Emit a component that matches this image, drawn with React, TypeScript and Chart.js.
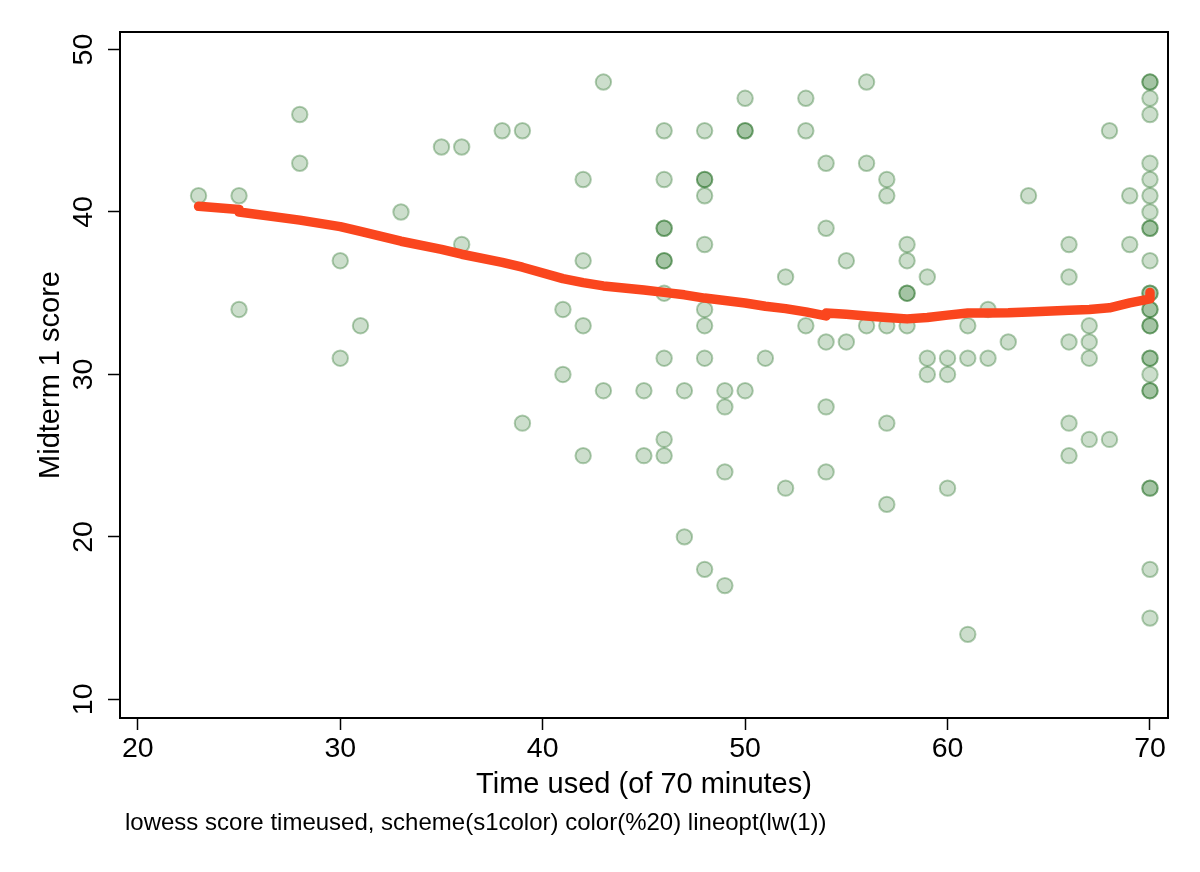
import React, { useEffect, useRef } from 'react';
import { Chart, registerables } from 'chart.js';

Chart.register(...registerables);

// Time used (minutes) for each student, paired with midtermScore below
const timeUsed = [
  23,
  25, 25,
  28, 28,
  30, 30,
  31,
  33,
  35,
  36, 36,
  38,
  39, 39,
  41, 41,
  42, 42, 42, 42,
  43, 43,
  45, 45,
  46, 46, 46, 46, 46, 46, 46, 46, 46, 46,
  47, 47,
  48, 48, 48, 48, 48, 48, 48, 48, 48,
  49, 49, 49, 49,
  50, 50, 50, 50,
  51,
  52, 52,
  53, 53, 53,
  54, 54, 54, 54, 54,
  55, 55,
  56, 56, 56,
  57, 57, 57, 57, 57,
  58, 58, 58, 58, 58,
  59, 59, 59,
  60, 60, 60,
  61, 61, 61,
  62, 62,
  63,
  64,
  66, 66, 66, 66, 66,
  67, 67, 67, 67,
  68, 68,
  69, 69,
  70, 70, 70, 70, 70, 70, 70, 70, 70, 70, 70, 70, 70,
  70, 70, 70, 70, 70, 70, 70, 70, 70, 70, 70, 70, 70,
];

const midtermScore = [
  41,
  41, 34,
  46, 43,
  37, 31,
  33,
  40,
  44,
  44, 38,
  45,
  45, 27,
  34, 30,
  42, 37, 33, 25,
  48, 29,
  29, 25,
  45, 42, 39, 39, 37, 37, 35, 31, 26, 25,
  29, 20,
  45, 42, 42, 41, 38, 34, 33, 31, 18,
  29, 28, 24, 17,
  47, 45, 45, 29,
  31,
  36, 23,
  47, 45, 33,
  43, 39, 32, 28, 24,
  37, 32,
  48, 43, 33,
  42, 41, 33, 27, 22,
  38, 37, 35, 35, 33,
  36, 31, 30,
  31, 30, 23,
  33, 31, 14,
  34, 31,
  32,
  41,
  38, 36, 32, 27, 25,
  33, 32, 31, 26,
  45, 26,
  41, 38,
  48, 48, 47, 46, 43, 42, 41, 40, 39, 39, 37, 35, 35,
  34, 34, 33, 33, 31, 31, 30, 29, 29, 23, 23, 18, 15,
];

// lowess smooth
const lowessX = [
  23, 25, 25, 28, 30, 31, 33, 35, 36, 38, 39, 41, 42, 43, 45, 46, 47, 48, 49, 50,
  51, 52, 53, 54, 54, 55, 56, 57, 58, 59, 60, 61, 62, 63, 64, 66, 67, 68, 69, 70, 70,
];
const lowessY = [
  40.35, 40.15, 40.0, 39.5, 39.1, 38.8, 38.2, 37.7, 37.4, 36.9, 36.6, 35.9, 35.65, 35.45, 35.2, 35.05, 34.9, 34.7, 34.55, 34.4,
  34.2, 34.05, 33.85, 33.6, 33.78, 33.7, 33.6, 33.5, 33.42, 33.5, 33.65, 33.78, 33.78, 33.8, 33.85, 33.95, 34.0, 34.1, 34.4, 34.65, 35.05,
];

const xTicks = [20, 30, 40, 50, 60, 70];
const yTicks = [10, 20, 30, 40, 50];

const xTitle = 'Time used (of 70 minutes)';
const yTitle = 'Midterm 1 score';
const footnote = 'lowess score timeused, scheme(s1color) color(%20) lineopt(lw(1))';

const FONT = "'Liberation Sans', Arial, Helvetica, sans-serif";

const boxPlugin = {
  id: 'plotBox',
  afterDraw(chart: any) {
    const { ctx, chartArea } = chart;
    ctx.save();
    ctx.strokeStyle = '#000';
    ctx.lineWidth = 2;
    ctx.strokeRect(chartArea.left, chartArea.top, chartArea.right - chartArea.left, chartArea.bottom - chartArea.top);
    // note under the graph
    ctx.font = `24px ${FONT}`;
    ctx.fillStyle = '#000';
    ctx.textBaseline = 'alphabetic';
    ctx.textAlign = 'left';
    ctx.fillText(footnote, chartArea.left + 5, chart.height - 42);
    ctx.restore();
  },
};

const App: React.FC = () => {
  const canvasRef = useRef<HTMLCanvasElement | null>(null);

  useEffect(() => {
    if (!canvasRef.current) return;
    const ctx = canvasRef.current.getContext('2d');
    if (!ctx) return;

    const points = timeUsed.map((t, i) => ({ x: t, y: midtermScore[i] }));
    const smooth = lowessX.map((t, i) => ({ x: t, y: lowessY[i] }));

    const chart = new Chart(ctx, {
      type: 'scatter',
      data: {
        datasets: [
          {
            type: 'line',
            label: 'lowess',
            data: smooth,
            borderColor: 'rgb(250,70,30)',
            borderWidth: 9.5,
            borderCapStyle: 'round',
            borderJoinStyle: 'round',
            pointRadius: 0,
            tension: 0,
            fill: false,
          },
          {
            label: 'score',
            data: points,
            backgroundColor: 'rgba(0,90,0,0.2)',
            borderColor: 'rgba(0,90,0,0.3)',
            borderWidth: 2,
            pointRadius: 7.7,
          },
        ],
      },
      options: {
        responsive: false,
        animation: false,
        layout: { padding: { top: 32, right: 32, left: 0, bottom: 0 } },
        plugins: {
          legend: { display: false },
          tooltip: { enabled: false },
        },
        scales: {
          x: {
            type: 'linear',
            min: 19.12,
            max: 70.89,
            afterBuildTicks: (s: any) => {
              s.ticks = xTicks.map((v) => ({ value: v }));
            },
            afterFit: (s: any) => {
              s.height = 154;
            },
            grid: { drawOnChartArea: false, drawTicks: true, tickLength: 12, tickWidth: 1.5, tickColor: '#000' },
            border: { display: true, color: '#000', width: 2 },
            ticks: {
              autoSkip: false,
              maxRotation: 0,
              minRotation: 0,
              padding: 2,
              color: '#000',
              font: { family: FONT, size: 28.5 },
            },
            title: {
              display: true,
              text: xTitle,
              color: '#000',
              font: { family: FONT, size: 29 },
              padding: { top: 0, bottom: 70 },
            },
          },
          y: {
            type: 'linear',
            min: 8.85,
            max: 51.08,
            afterBuildTicks: (s: any) => {
              s.ticks = yTicks.map((v) => ({ value: v }));
            },
            afterFit: (s: any) => {
              s.width = 120;
            },
            grid: { drawOnChartArea: false, drawTicks: true, tickLength: 12, tickWidth: 1.5, tickColor: '#000' },
            border: { display: true, color: '#000', width: 2 },
            ticks: {
              autoSkip: false,
              minRotation: 90,
              maxRotation: 90,
              crossAlign: 'center',
              padding: 8,
              color: '#000',
              font: { family: FONT, size: 28.5 },
            },
            title: {
              display: true,
              text: yTitle,
              color: '#000',
              font: { family: FONT, size: 29 },
              padding: { top: 34, bottom: 0 },
            },
          },
        },
      },
      plugins: [boxPlugin],
    } as any);

    return () => {
      chart.destroy();
    };
  }, []);

  return (
    <div style={{ position: 'absolute', left: 0, top: 0, width: 1200, height: 872, background: '#fff' }}>
      <canvas ref={canvasRef} width={1200} height={872} />
    </div>
  );
};

export default App;
